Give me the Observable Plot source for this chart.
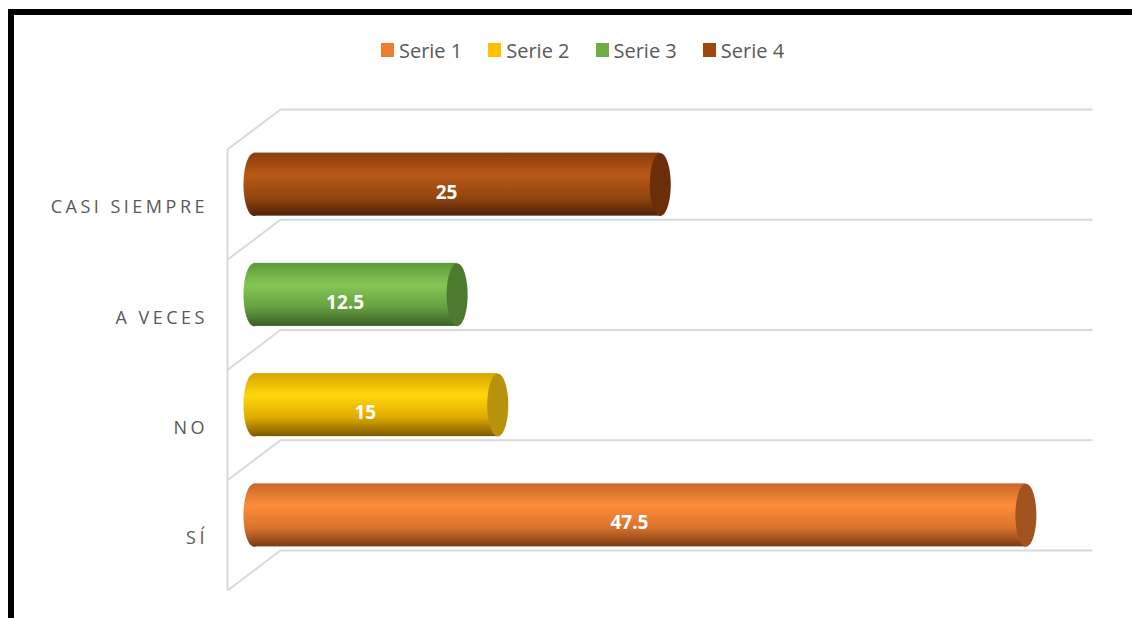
<!DOCTYPE html>
<html>
<head>
<meta charset="utf-8">
<script src="https://cdn.jsdelivr.net/npm/d3@7"></script>
<script src="https://cdn.jsdelivr.net/npm/@observablehq/plot@0.6"></script>
<style>
  body { margin: 0; background: #fff; overflow: hidden; font-family: "Open Sans", sans-serif; }
  #frame { position: absolute; left: 8px; top: 9px; width: 1300px; height: 800px;
           border-top: 6px solid #000; border-left: 6px solid #000; pointer-events: none; }
  #legend { width: 1132px; height: 100px; box-sizing: border-box; padding-left: 33px;
            display: flex; justify-content: center; align-items: center; }
  .item { display: flex; align-items: center; margin: 0 13px; font-size: 20px; color: #595959; }
  .sw { width: 13px; height: 14px; margin-right: 5px; }
  #chart svg { display: block; }
</style>
</head>
<body>
<div id="frame"></div>
<div id="legend"></div>
<div id="chart"></div>
<script>
// ---- data ----
const categories = ["SÍ", "NO", "A VECES", "CASI SIEMPRE"];
const series     = ["Serie 1", "Serie 2", "Serie 3", "Serie 4"];
const values     = [47.5, 15, 12.5, 25];
const colors     = ["#ED7D31", "#FFC000", "#70AD47", "#9E480E"];
const capColors  = ["#A1541F", "#B8920C", "#4C7A2F", "#6B2E08"];
const gradStops  = [
  [[0, "#C8672A"], [0.35, "#FF8C3B"], [0.7, "#DA722E"], [1, "#7A3B12"]],
  [[0, "#D9A400"], [0.35, "#FFD80A"], [0.7, "#E0AA00"], [1, "#7A5A00"]],
  [[0, "#5F9A3A"], [0.35, "#84C656"], [0.7, "#66A140"], [1, "#3A5F24"]],
  [[0, "#8A3D0B"], [0.35, "#B85815"], [0.7, "#94460F"], [1, "#4F2207"]]
];
const xMax = 50;

// ---- 3D look (styles) ----
const DEPTH_X = 3.26, DEPTH_Y = 0.363;   // back-wall offset in data units
const RX = 10.5, RY = 31.5;              // cylinder end ellipse radii (px)

const rows = categories.map((c, i) => ({
  cat: c, series: series[i], value: values[i], i,
  grad: `url(#grad${i})`, cap: capColors[i]
}));
const bounds = d3.range(categories.length + 1);

// legend
const legend = d3.select("#legend");
series.forEach((s, i) => {
  const it = legend.append("div").attr("class", "item");
  it.append("div").attr("class", "sw").style("background", colors[i]);
  it.append("span").text(s);
});

const K = 0.5523;
const fullEllipse = {
  draw(ctx) {
    ctx.moveTo(RX, 0);
    ctx.bezierCurveTo(RX, K * RY, K * RX, RY, 0, RY);
    ctx.bezierCurveTo(-K * RX, RY, -RX, K * RY, -RX, 0);
    ctx.bezierCurveTo(-RX, -K * RY, -K * RX, -RY, 0, -RY);
    ctx.bezierCurveTo(K * RX, -RY, RX, -K * RY, RX, 0);
    ctx.closePath();
  }
};
const leftHalf = {
  draw(ctx) {
    ctx.moveTo(1.5, -RY);
    ctx.lineTo(0, -RY);
    ctx.bezierCurveTo(-K * RX, -RY, -RX, -K * RY, -RX, 0);
    ctx.bezierCurveTo(-RX, K * RY, -K * RX, RY, 0, RY);
    ctx.lineTo(1.5, RY);
    ctx.closePath();
  }
};

const mid = d => d.i + 0.5 + DEPTH_Y / 2;
const gridColor = "#d9d9d9";

const svg = Plot.plot({
  width: 1132,
  height: 518,
  marginTop: 49,
  marginBottom: 28,
  marginLeft: 227,
  marginRight: 39.5,
  style: { fontFamily: "'Open Sans', sans-serif", background: "transparent" },
  x: { domain: [0, xMax + DEPTH_X], axis: null },
  y: { domain: [0, categories.length], axis: null },
  color: { type: "identity" },
  marks: [
    Plot.ruleY(bounds, { y: b => b + DEPTH_Y, x1: () => DEPTH_X, x2: () => xMax + DEPTH_X,
                         stroke: gridColor, strokeWidth: 2 }),
    Plot.ruleX([0], { x: d => d, y1: () => 0, y2: () => categories.length,
                      stroke: gridColor, strokeWidth: 2 }),
    Plot.link(bounds, { x1: () => 0, y1: b => b, x2: () => DEPTH_X, y2: b => b + DEPTH_Y,
                        stroke: gridColor, strokeWidth: 2 }),
    Plot.dot(rows, { x: () => DEPTH_X / 2, y: mid, symbol: leftHalf, fill: "grad", stroke: "none" }),
    Plot.rect(rows, { x1: () => DEPTH_X / 2, x2: d => d.value + DEPTH_X / 2,
                      y1: d => d.i + DEPTH_Y / 2, y2: d => d.i + 1 + DEPTH_Y / 2,
                      insetTop: 23.6, insetBottom: 23.6, fill: "grad" }),
    Plot.dot(rows, { x: d => d.value + DEPTH_X / 2, y: mid, symbol: fullEllipse, fill: "cap", stroke: "none" }),
    Plot.text(rows, { x: d => d.value / 2 + DEPTH_X / 2, y: mid, text: d => String(d.value),
                      dx: -10.5, dy: 8, fill: "white", fontWeight: "bold", fontSize: 19 }),
    Plot.text(rows, { x: () => 0, y: d => d.i + 0.5, text: "cat", textAnchor: "end",
                      dx: -19.5, dy: 3, fill: "#595959", fontSize: 18 })
  ]
});

const defs = d3.select(svg).insert("defs", ":first-child");
gradStops.forEach((stops, i) => {
  const g = defs.append("linearGradient").attr("id", `grad${i}`)
    .attr("x1", 0).attr("y1", 0).attr("x2", 0).attr("y2", 1);
  stops.forEach(([o, c]) => g.append("stop").attr("offset", o).attr("stop-color", c));
});
d3.select(svg).selectAll("text")
  .filter(function () { return categories.includes(this.textContent); })
  .style("letter-spacing", "3.5px");

document.getElementById("chart").appendChild(svg);
</script>
</body>
</html>
